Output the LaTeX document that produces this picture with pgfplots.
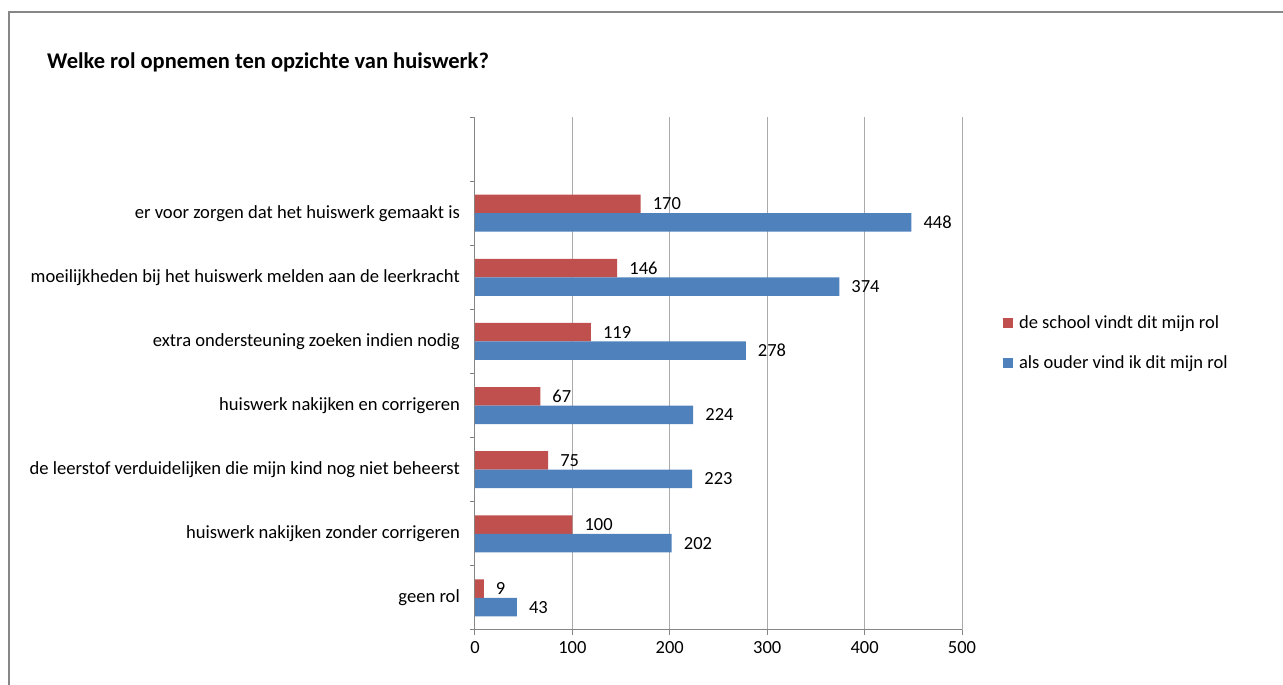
\documentclass[border=0pt]{standalone}
\usepackage{pgfplots}
\pgfplotsset{compat=1.18}
\usepackage{fontspec}
\setmainfont{Carlito}

\definecolor{schoolred}{RGB}{192,80,77}
\definecolor{ouderblue}{RGB}{79,129,189}
\definecolor{gridgray}{RGB}{170,170,170}
\definecolor{axisgray}{RGB}{134,134,134}
\definecolor{framegray}{RGB}{135,135,135}

\begin{document}
\begin{tikzpicture}[x=1pt,y=1pt]
\useasboundingbox (0,0) rectangle (1283,685);
% outer chart frame (right and bottom edge fall outside the picture)
\draw[framegray, line width=2pt] (9,-20) -- (9,673) -- (1300,673);
\node[anchor=base west, font=\fontsize{22.5}{25}\selectfont\bfseries, inner sep=0pt]
  at (47,616) {Welke rol opnemen ten opzichte van huiswerk?};

\begin{axis}[
  at={(475pt,55pt)}, anchor=south west,
  scale only axis, width=487pt, height=513pt,
  xbar, bar width=18.5pt,
  xmin=0, xmax=500, ymin=-0.5, ymax=7.5,
  xtick={0,100,...,500},
  ytick={-0.5,0.5,...,7.5}, yticklabel=\empty,
  extra y ticks={0,1,2,3,4,5,6},
  extra y tick labels={
    geen rol,
    huiswerk nakijken zonder corrigeren,
    de leerstof verduidelijken die mijn kind nog niet beheerst,
    huiswerk nakijken en corrigeren,
    extra ondersteuning zoeken indien nodig,
    moeilijkheden bij het huiswerk melden aan de leerkracht,
    er voor zorgen dat het huiswerk gemaakt is},
  extra y tick style={tick style={draw=none}},
  axis lines*=left,
  axis line style={axisgray, line width=1pt},
  tick align=outside, major tick length=5pt,
  tick style={axisgray, line width=1pt},
  xmajorgrids, grid style={gridgray, line width=1pt},
  ticklabel style={font=\fontsize{18.6}{20}\selectfont},
  xticklabel style={font=\fontsize{18.5}{20}\selectfont, yshift=-3pt},
  /pgf/number format/assume math mode=true,
  yticklabel style={inner sep=0pt, xshift=-10pt},
  nodes near coords,
  nodes near coords style={font=\fontsize{18.5}{20}\selectfont, anchor=west,
    inner sep=0pt, xshift=12pt, text=black},
  legend style={at={(axis description cs:1.084,0.56)}, anchor=west,
    draw=none, fill=none, font=\fontsize{18.5}{20}\selectfont,
    row sep=22pt, inner sep=0pt,
    /tikz/every odd column/.append style={column sep=4pt}},
  legend cell align=left,
  legend image code/.code={\fill[#1] (0pt,-5pt) rectangle (10pt,5pt);},
]
\addplot[fill=schoolred, draw=none, bar shift=9.25pt]
  coordinates {(9,0) (100,1) (75,2) (67,3) (119,4) (146,5) (170,6)};
\addplot[fill=ouderblue, draw=none, bar shift=-9.25pt]
  coordinates {(43,0) (202,1) (223,2) (224,3) (278,4) (374,5) (448,6)};
\legend{de school vindt dit mijn rol, als ouder vind ik dit mijn rol}
\end{axis}
\end{tikzpicture}
\end{document}
